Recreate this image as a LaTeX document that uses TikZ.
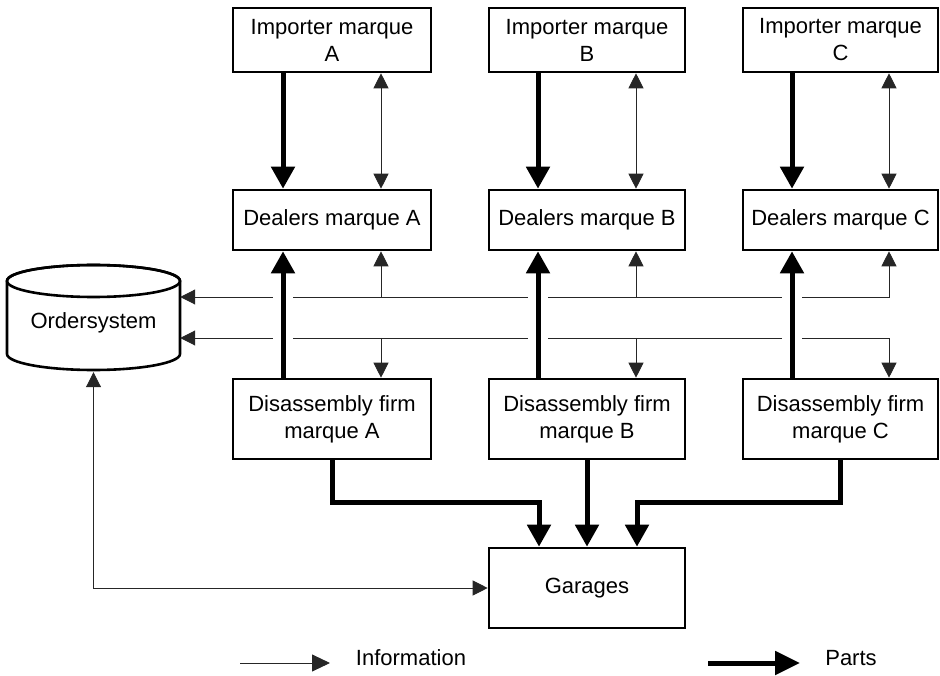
\documentclass[tikz,border=0pt]{standalone}
\usepackage{fontspec}
\setmainfont{Liberation Sans}
\usetikzlibrary{arrows.meta,calc}
\begin{document}
\begin{tikzpicture}[x=1pt,y=-1pt,
 txt/.style={font=\fontsize{22pt}{27pt}\selectfont},
 box/.style={txt, draw, line width=2.6pt, fill=white, align=center, inner sep=0pt},
 info/.style={line width=0.9pt, draw=black!85},
 infotip/.style={-{Triangle[length=15pt,width=15pt]}},
 infoboth/.style={{Triangle[length=15pt,width=15pt]}-{Triangle[length=15pt,width=15pt]}},
 parts/.style={line width=5pt, -{Triangle[length=22pt,width=23pt]}},
 bridge/.style={preaction={draw=white, line width=20pt, -, shorten <=25pt, shorten >=25pt}}
]
\useasboundingbox (0,0) rectangle (940,676);

% column and row references
\coordinate (tA) at (283,0); \coordinate (tB) at (538,0); \coordinate (tC) at (792,0);
\coordinate (nA) at (381,0); \coordinate (nB) at (636,0); \coordinate (nC) at (889,0);
\coordinate (rU) at (0,297); \coordinate (rL) at (0,338); \coordinate (rP) at (0,502);
\coordinate (g1) at (539,0); \coordinate (g3) at (637,0);

% order system cylinder
\draw[line width=2.6pt, fill=white] (7,281) -- (7,354)
  arc[start angle=180,end angle=360,x radius=86.5pt,y radius=16pt] -- (180,281)
  arc[start angle=0,end angle=180,x radius=86.5pt,y radius=16pt] -- cycle;
\draw[line width=2.6pt] (93.5,281) ellipse[x radius=86.5pt, y radius=16pt];
\node[txt, minimum width=173pt, minimum height=98pt, inner sep=0pt] (ord) at (93.5,323) {Ordersystem};

% boxes
\node[box, minimum width=198pt, minimum height=64pt] (impA) at (332,40) {Importer marque\\A};
\node[box, minimum width=196pt, minimum height=64pt] (impB) at (587,40) {Importer marque\\B};
\node[box, minimum width=195pt, minimum height=64pt] (impC) at (840.5,40) {Importer marque\\C};
\node[box, minimum width=198pt, minimum height=60pt] (dlrA) at (332,220) {Dealers marque A};
\node[box, minimum width=196pt, minimum height=60pt] (dlrB) at (587,220) {Dealers marque B};
\node[box, minimum width=195pt, minimum height=60pt] (dlrC) at (840.5,220) {Dealers marque C};
\node[box, minimum width=198pt, minimum height=80pt] (dsA) at (332,419) {Disassembly firm\\marque A};
\node[box, minimum width=196pt, minimum height=80pt] (dsB) at (587,419) {Disassembly firm\\marque B};
\node[box, minimum width=195pt, minimum height=80pt] (dsC) at (840.5,419) {Disassembly firm\\marque C};
\node[box, minimum width=196pt, minimum height=80pt] (gar) at (587,588) {Garages};

% information flows
\draw[info, infoboth] (impA.south -| nA) -- (dlrA.north -| nA);
\draw[info, infoboth] (impB.south -| nB) -- (dlrB.north -| nB);
\draw[info, infoboth] (impC.south -| nC) -- (dlrC.north -| nC);
\draw[info, infoboth] (ord.east |- rU) -| (dlrC.south -| nC);
\draw[info, infotip] (rU -| nA) -- (dlrA.south -| nA);
\draw[info, infotip] (rU -| nB) -- (dlrB.south -| nB);
\draw[info, infoboth] (ord.east |- rL) -| (dsC.north -| nC);
\draw[info, infotip] (rL -| nA) -- (dsA.north -| nA);
\draw[info, infotip] (rL -| nB) -- (dsB.north -| nB);
\draw[info, infoboth] (ord.south) |- (gar.west);

% parts flows
\draw[parts] (impA.south -| tA) -- (dlrA.north -| tA);
\draw[parts] (impB.south -| tB) -- (dlrB.north -| tB);
\draw[parts] (impC.south -| tC) -- (dlrC.north -| tC);
\draw[parts, bridge] (dsA.north -| tA) -- (dlrA.south -| tA);
\draw[parts, bridge] (dsB.north -| tB) -- (dlrB.south -| tB);
\draw[parts, bridge] (dsC.north -| tC) -- (dlrC.south -| tC);
\draw[parts] (dsA.south) |- (rP -| g1) -- (gar.north -| g1);
\draw[parts] (dsB.south) -- (gar.north);
\draw[parts] (dsC.south) |- (rP -| g3) -- (gar.north -| g3);

% legend
\coordinate (li1) at (240,663); \coordinate (li2) at (330,663);
\draw[info, -{Triangle[length=18pt,width=17pt]}] (li1) -- (li2);
\node[txt] (linfo) at (411,658) {Information};
\coordinate (lp1) at (708,663); \coordinate (lp2) at (800,663);
\draw[parts, -{Triangle[length=25pt,width=23pt]}] (lp1) -- (lp2);
\node[txt] (lparts) at (851,658) {Parts};
\end{tikzpicture}
\end{document}
